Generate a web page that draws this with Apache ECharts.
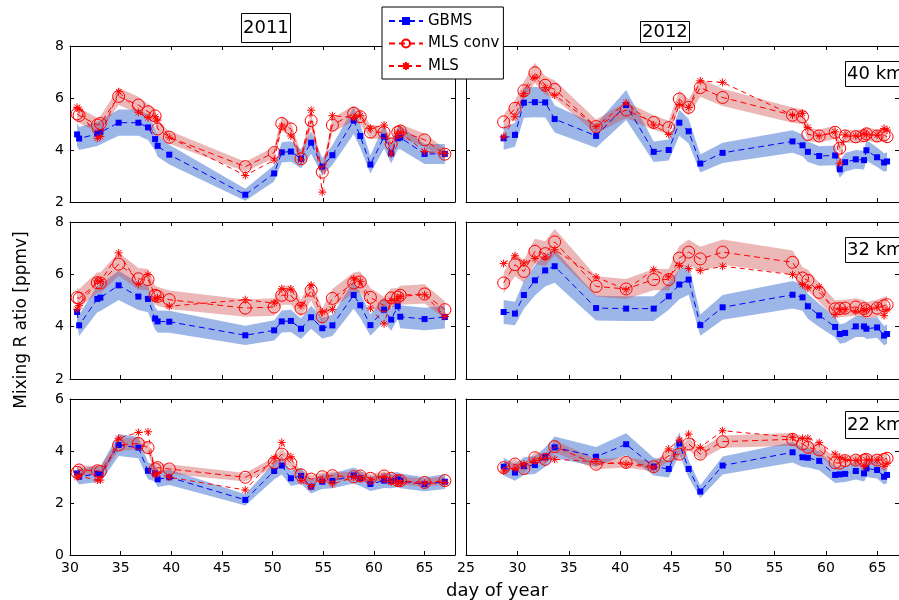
<!DOCTYPE html>
<html>
<head>
<meta charset="utf-8">
<script src="https://cdn.jsdelivr.net/npm/echarts@6/dist/echarts.min.js"></script>
<style>html,body{margin:0;padding:0;background:#fff}#c{width:899px;height:600px}</style>
</head>
<body>
<div id="c"></div>
<script>
// ---- data ----
const days2011 = [30.7,30.9,32.7,33.0,34.8,36.75,37.7,38.4,38.65,39.8,47.3,50.15,50.9,51.8,52.8,53.8,54.9,55.9,58.0,58.65,59.65,61.0,61.7,62.35,62.6,65.0,67.0];
const days2012 = [28.66,29.76,30.63,31.7,32.7,33.62,37.65,40.57,43.25,44.71,45.74,46.65,47.78,49.95,56.75,57.72,58.24,59.34,60.89,61.34,61.86,62.9,63.7,63.93,64.97,65.65,65.94];

const gbms2011_40 = [4.60,4.44,4.62,4.68,5.05,5.05,4.87,4.42,4.16,3.82,2.28,3.10,3.91,3.94,3.66,4.28,3.36,3.80,5.13,4.54,3.44,4.51,3.87,4.45,4.48,3.85,3.85];
const conv2011_40 = [5.39,5.33,4.96,5.02,6.06,5.73,5.47,5.31,4.81,4.49,3.36,3.90,5.02,4.81,3.66,5.13,3.15,4.96,5.41,5.28,4.69,4.68,4.23,4.68,4.73,4.39,3.84];
const mls2011_40  = [5.64,5.57,4.45,4.52,6.24,5.45,5.24,5.28,5.15,4.49,3.02,3.61,4.92,4.54,3.62,5.53,2.38,5.32,5.25,5.32,4.83,4.96,3.85,4.64,4.68,3.94,3.87];

const gbms2011_32 = [4.56,4.05,5.06,5.11,5.58,5.15,5.06,4.31,4.20,4.19,3.67,3.86,4.20,4.22,3.92,4.36,3.94,4.05,5.21,4.82,4.06,4.65,4.27,4.78,4.38,4.29,4.37];
const conv2011_32 = [5.11,5.08,5.68,5.67,6.39,5.83,5.80,5.20,5.16,5.03,4.71,4.75,5.20,5.20,4.70,5.39,4.38,5.08,5.67,5.71,5.12,4.80,5.10,5.13,5.20,5.25,4.65];
const mls2011_32  = [4.67,4.80,5.75,5.72,6.82,5.64,5.99,5.06,5.12,4.78,5.03,4.90,5.45,5.44,4.80,5.58,4.56,4.65,5.83,5.73,4.71,4.11,5.00,5.08,5.16,5.22,4.39];

const gbms2011_22 = [3.14,3.01,3.12,3.10,4.23,4.13,3.24,3.14,2.91,2.99,2.12,3.23,3.44,2.95,3.04,2.63,2.82,2.85,3.06,2.95,2.73,2.86,2.85,2.91,2.85,2.72,2.82];
const conv2011_22 = [3.18,3.27,3.24,3.21,4.23,4.29,4.13,3.31,3.36,3.31,2.99,3.56,3.88,3.53,3.08,2.92,3.01,3.05,3.01,3.04,2.95,3.04,2.95,2.86,2.86,2.79,2.86];
const mls2011_22  = [2.99,3.04,2.88,2.88,4.49,4.71,4.74,3.08,3.14,2.99,2.50,3.72,4.33,3.78,2.85,2.63,2.88,2.73,2.99,2.95,2.88,3.01,2.82,2.76,2.78,2.76,2.78];

const gbms2012_40 = [4.45,4.58,5.82,5.84,5.83,5.19,4.54,5.73,3.93,4.00,5.05,4.72,3.48,3.89,4.33,4.18,3.93,3.77,3.79,3.26,3.53,3.64,3.61,3.99,3.72,3.52,3.56];
const conv2012_40 = [5.08,5.60,6.28,6.97,6.49,6.33,4.90,5.54,5.06,4.86,5.96,5.64,6.40,6.02,5.34,5.28,4.60,4.54,4.68,4.07,4.54,4.51,4.55,4.62,4.54,4.58,4.51];
const mls2012_40  = [4.51,5.28,6.17,6.79,6.40,6.11,4.90,5.82,4.96,4.60,5.75,5.64,6.66,6.60,5.34,5.41,4.87,4.54,4.70,3.49,4.58,4.54,4.64,4.58,4.58,4.83,4.77];

const gbms2012_32 = [4.56,4.50,5.21,5.77,6.15,6.31,4.71,4.69,4.69,5.16,5.61,5.80,4.06,4.74,5.22,5.12,4.78,4.43,3.99,3.72,3.76,4.01,4.01,3.92,3.97,3.66,3.72];
const conv2012_32 = [5.67,6.37,6.11,6.88,6.79,7.24,5.54,5.44,5.80,5.80,6.62,6.85,6.59,6.85,6.46,5.86,5.77,5.31,4.68,4.69,4.71,4.75,4.69,4.61,4.71,4.80,4.84];
const mls2012_32  = [6.41,6.71,6.43,6.60,6.66,6.94,5.90,5.41,6.18,5.90,6.34,6.22,6.14,6.31,5.99,5.61,5.48,5.52,4.46,4.65,4.65,4.59,4.61,4.65,4.75,4.42,4.65];

const gbms2012_22 = [3.40,3.17,3.42,3.46,3.76,4.14,3.78,4.26,3.40,3.31,4.29,3.31,2.44,3.44,3.95,3.76,3.74,3.62,3.08,3.10,3.12,3.23,3.14,3.33,3.27,3.01,3.08];
const conv2012_22 = [3.36,3.50,3.33,3.74,3.68,4.17,3.49,3.56,3.40,3.82,3.88,4.27,3.88,4.36,4.45,4.27,4.14,4.04,3.55,3.53,3.63,3.65,3.65,3.68,3.65,3.68,3.72];
const mls2012_22  = [3.23,3.33,3.50,3.63,3.72,3.68,3.59,3.49,3.36,4.08,4.42,4.65,4.14,4.78,4.53,4.49,4.49,4.32,3.88,3.76,3.68,3.63,3.40,3.65,3.65,3.40,3.53];

// relative uncertainty of the shaded envelopes
const gbmsRelErr = [0.10, 0.10, 0.10];          // 40, 32, 22 km
const convRelErr = [0.055, 0.07, 0.055];        // 40, 32, 22 km

const xTicks2011 = [30,35,40,45,50,55,60,65];
const xTicks2012 = [25,30,35,40,45,50,55,60,65];
const yTicksUpper = [2,4,6,8];
const yTicksLower = [0,2,4,6];
const yearLabels = ['2011','2012'];
const altLabels = ['40 km','32 km','22 km'];

// ---- chart ----
const FONT = 'DejaVu Sans';
const BLUE = '#0000ff', RED = '#ff0000';
const BLUE_BAND = '#9db6e8', RED_BAND = 'rgba(205,65,65,0.38)';
const STAR = 'path://M0,5L10,5M5,0L5,10M1.5,1.5L8.5,8.5M8.5,1.5L1.5,8.5';

const panels = [
  {days: days2011, gbms: gbms2011_40, conv: conv2011_40, mls: mls2011_40},
  {days: days2012, gbms: gbms2012_40, conv: conv2012_40, mls: mls2012_40},
  {days: days2011, gbms: gbms2011_32, conv: conv2011_32, mls: mls2011_32},
  {days: days2012, gbms: gbms2012_32, conv: conv2012_32, mls: mls2012_32},
  {days: days2011, gbms: gbms2011_22, conv: conv2011_22, mls: mls2011_22},
  {days: days2012, gbms: gbms2012_22, conv: conv2012_22, mls: mls2012_22}
];
const gridLayout = [
  {left:70, top:46, width:385, height:156}, {left:466, top:46, width:434, height:156},
  {left:70, top:222, width:385, height:157}, {left:466, top:222, width:434, height:157},
  {left:70, top:399, width:385, height:156}, {left:466, top:399, width:434, height:156}
];

const grid = [], xAxis = [], yAxis = [], series = [];
const labelStyle = {color:'#000', fontFamily:FONT, fontSize:14};

panels.forEach((p, i) => {
  const col = i % 2, row = Math.floor(i / 2);
  grid.push(Object.assign({containLabel:false}, gridLayout[i]));
  const xr = col === 0 ? [30, 68] : [25, 67.1];
  const xt = col === 0 ? xTicks2011 : xTicks2012;
  const yr = row < 2 ? [2, 8] : [0, 6];
  const yt = row < 2 ? yTicksUpper : yTicksLower;
  const line = {onZero:false, lineStyle:{color:'#000', width:1}};
  const tick = vals => ({inside:true, length:4, customValues:vals, lineStyle:{color:'#000', width:1}});
  xAxis.push({type:'value', gridIndex:i, min:xr[0], max:xr[1], position:'bottom',
    axisLine:line, axisTick:tick(xt), splitLine:{show:false},
    axisLabel:Object.assign({show: row === 2, customValues:xt, margin:6}, labelStyle)});
  xAxis.push({type:'value', gridIndex:i, min:xr[0], max:xr[1], position:'top',
    axisLine:line, axisTick:tick(xt), splitLine:{show:false}, axisLabel:{show:false}});
  yAxis.push({type:'value', gridIndex:i, min:yr[0], max:yr[1], position:'left',
    axisLine:line, axisTick:tick(yt), splitLine:{show:false},
    axisLabel:Object.assign({show: col === 0, customValues:yt, margin:6}, labelStyle)});
  yAxis.push({type:'value', gridIndex:i, min:yr[0], max:yr[1], position:'right',
    axisLine:line, axisTick:tick(yt), splitLine:{show:false}, axisLabel:{show:false}});

  const xi = 2 * i, yi = 2 * i;
  const pts = arr => p.days.map((d, k) => [d, arr[k]]);
  // shaded envelope: value*(1-rel) .. value*(1+rel), drawn as one polygon through the axes' scales
  const band = (arr, rel, color, z) => {
    const rows = p.days.map((d, k) => [d, arr[k] * (1 - rel), arr[k] * (1 + rel)]);
    series.push({type:'custom', xAxisIndex:xi, yAxisIndex:yi, silent:true, clip:true, z:z,
      encode:{x:0, y:[1,2]}, data:rows,
      renderItem:(params, api) => {
        if (params.dataIndex !== 0) return null;
        const up = rows.map(r => api.coord([r[0], r[2]]));
        const lo = rows.map(r => api.coord([r[0], r[1]])).reverse();
        return {type:'polygon', shape:{points: up.concat(lo)}, style:{fill:color, stroke:null}};
      }});
  };
  band(p.gbms, gbmsRelErr[row], BLUE_BAND, 1);
  band(p.conv, convRelErr[row], RED_BAND, 1);

  series.push({type:'line', name:'GBMS', xAxisIndex:xi, yAxisIndex:yi, data:pts(p.gbms),
    symbol:'rect', symbolSize:6, itemStyle:{color:BLUE},
    lineStyle:{color:BLUE, width:1, type:[6,4]}, z:3});
  series.push({type:'line', name:'MLS conv', xAxisIndex:xi, yAxisIndex:yi, data:pts(p.conv),
    symbol:'circle', symbolSize:12, itemStyle:{color:'rgba(255,0,0,0)', borderColor:RED, borderWidth:1},
    lineStyle:{color:RED, width:1, type:[6,4]}, z:4});
  series.push({type:'line', name:'MLS', xAxisIndex:xi, yAxisIndex:yi, data:pts(p.mls),
    symbol:STAR, symbolSize:8, itemStyle:{color:RED, borderColor:RED, borderWidth:1},
    lineStyle:{color:RED, width:1, type:[5,4]}, z:4});
});

const boxTitle = (text, left, top, pad) => ({
  text, left, top, padding:pad, borderWidth:1, borderColor:'#000', backgroundColor:'#fff',
  textStyle:{fontFamily:FONT, fontSize:18, fontWeight:'normal', color:'#000', lineHeight:20}
});

const option = {
  animation:false,
  backgroundColor:'#fff',
  title:[
    boxTitle(yearLabels[0], 241, 13, [5,2,5,2]),
    boxTitle(yearLabels[1], 640, 21, [1,2,1,2]),
    boxTitle(altLabels[0], 845, 61, [3,2,3,2]),
    boxTitle(altLabels[1], 845, 237, [3,2,3,2]),
    boxTitle(altLabels[2], 845, 411, [4,2,4,2])
  ],
  legend:{
    data:['GBMS','MLS conv','MLS'], orient:'vertical', left:382, top:7,
    backgroundColor:'#fff', borderColor:'#000', borderWidth:1, borderRadius:0,
    padding:[6,4,5,6], itemWidth:34, itemHeight:10, itemGap:6.5, itemTextGap:5,
    textStyle:{fontFamily:FONT, fontSize:15, color:'#000', lineHeight:16},
    selectedMode:false
  },
  grid, xAxis, yAxis, series,
  graphic:[
    {type:'text', x:497, y:591, style:{text:'day of year', font:'18px "DejaVu Sans"', fill:'#000',
      align:'center', verticalAlign:'middle'}},
    {type:'text', rotation:Math.PI/2, x:22, y:320, style:{text:'Mixing R atio [ppmv]', font:'17px "DejaVu Sans"', fill:'#000',
      align:'center', verticalAlign:'middle'}}
  ]
};
const chart = echarts.init(document.getElementById('c'), null, {renderer:'canvas'});
chart.setOption(option);
</script>
</body>
</html>
